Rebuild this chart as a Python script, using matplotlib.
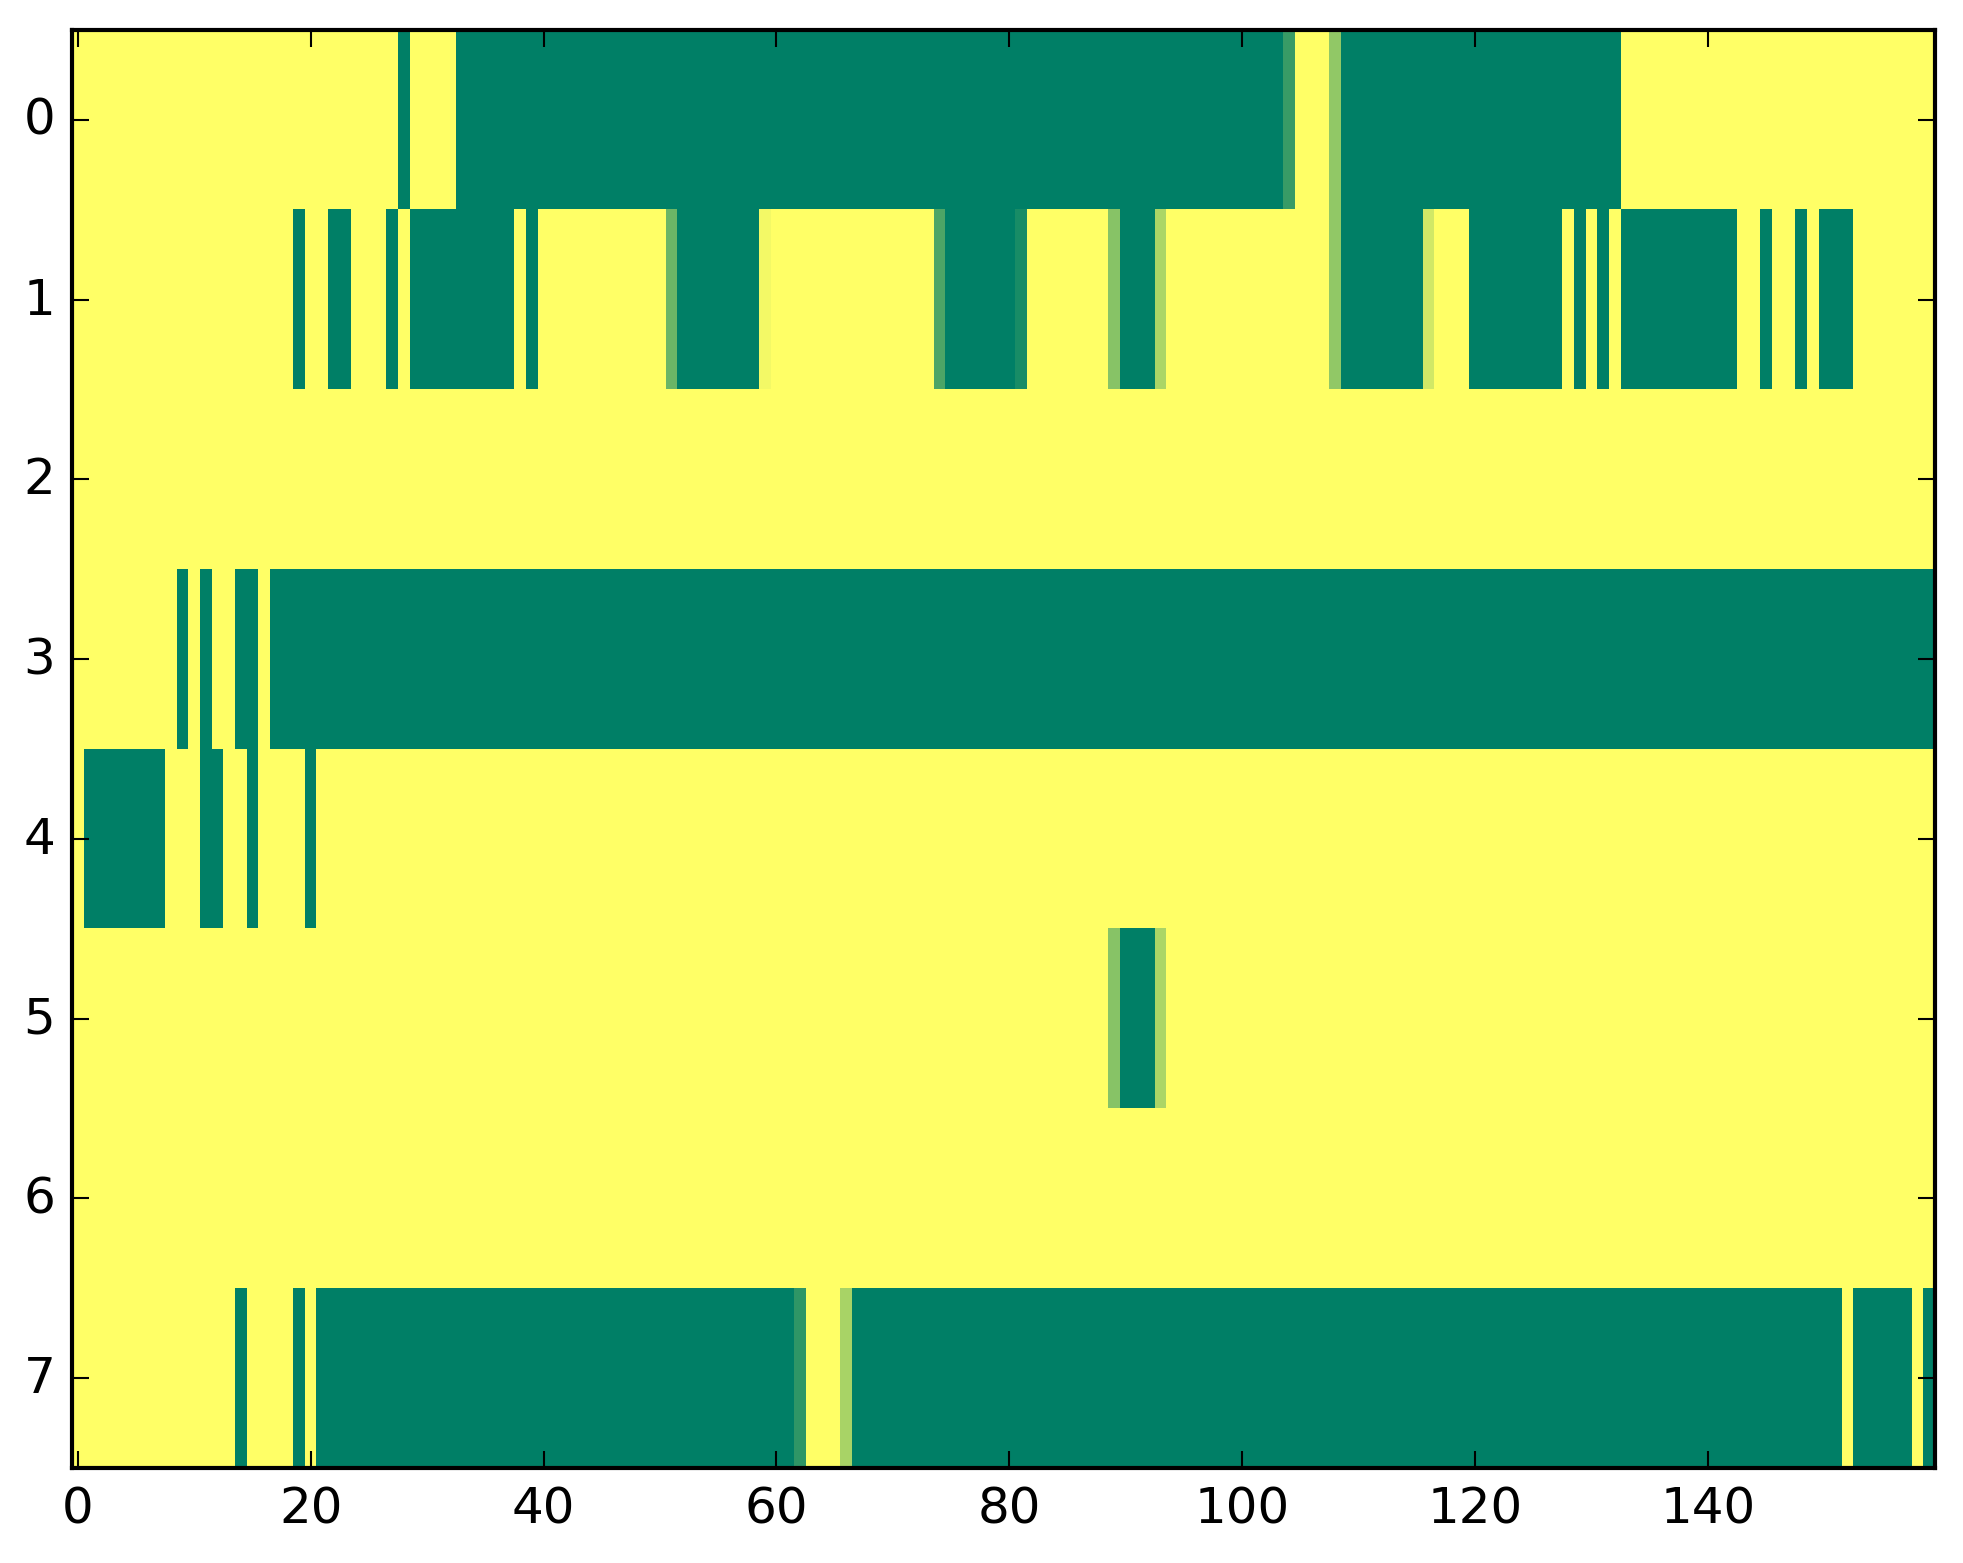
import numpy as np
import matplotlib
matplotlib.use('Agg')
import matplotlib.pyplot as plt

n_rows = 8
n_cols = 160

# runs of filled cells per row: (first column, last column, value)
row0 = [(28, 28, 1.0), (33, 103, 1.0), (104, 104, 0.78), (108, 108, 0.43), (109, 132, 1.0)]
row1 = [(19, 19, 1.0), (22, 23, 1.0), (27, 27, 1.0), (29, 37, 1.0), (39, 39, 1.0),
        (51, 51, 0.58), (52, 58, 1.0), (59, 59, 0.05), (74, 74, 0.70), (75, 80, 1.0),
        (81, 81, 0.90), (89, 89, 0.47), (90, 92, 1.0), (93, 93, 0.33), (108, 108, 0.43),
        (109, 115, 1.0), (116, 116, 0.18), (120, 127, 1.0), (129, 129, 1.0), (131, 131, 1.0),
        (133, 142, 1.0), (145, 145, 1.0), (148, 148, 1.0), (150, 152, 1.0)]
row2 = []
row3 = [(9, 9, 1.0), (11, 11, 1.0), (14, 15, 1.0), (17, 159, 1.0)]
row4 = [(1, 7, 1.0), (11, 12, 1.0), (15, 15, 1.0), (20, 20, 1.0)]
row5 = [(89, 89, 0.47), (90, 92, 1.0), (93, 93, 0.33)]
row6 = []
row7 = [(14, 14, 1.0), (19, 19, 1.0), (21, 61, 1.0), (62, 62, 0.82), (66, 66, 0.34),
        (67, 151, 1.0), (153, 157, 1.0), (159, 159, 1.0)]

rows = [row0, row1, row2, row3, row4, row5, row6, row7]

data = np.zeros((n_rows, n_cols))
for i, runs in enumerate(rows):
    for a, b, v in runs:
        data[i, a:b + 1] = v

plt.style.use('classic')
W, H, dpi = 1963, 1564, 300
fig = plt.figure(figsize=(W / dpi, H / dpi), dpi=dpi, facecolor='white')
# axes box in pixels: left 72, right 1935, top 31, bottom 1469
ax = fig.add_axes([72 / W, (H - 1469) / H, 1863 / W, 1438 / H])
ax.imshow(data, cmap='summer_r', vmin=0, vmax=1, aspect='auto', interpolation='nearest')
ax.set_xticks(np.arange(0, 160, 20))
ax.set_yticks(np.arange(0, 8))
ax.tick_params(labelsize=12)

fig.savefig('out.png', dpi=dpi, facecolor='white')
